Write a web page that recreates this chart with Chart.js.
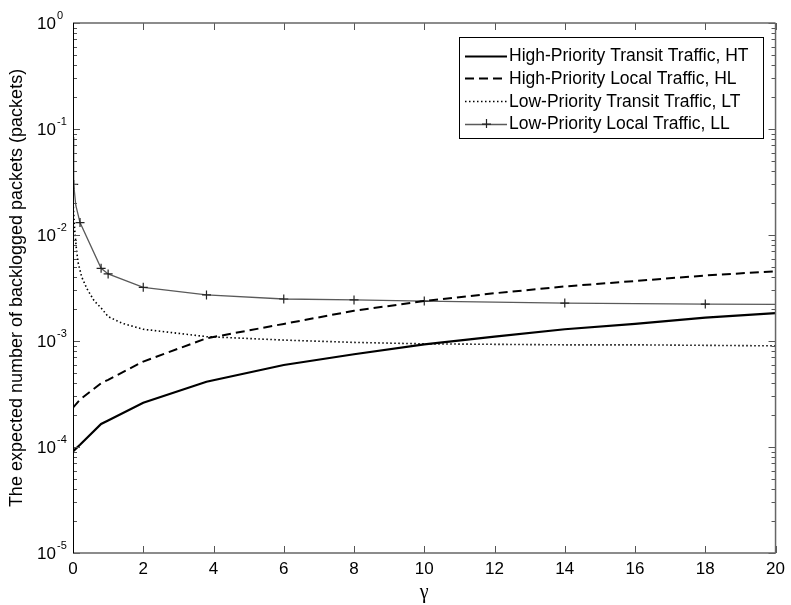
<!DOCTYPE html>
<html>
<head>
<meta charset="utf-8">
<script src="https://cdn.jsdelivr.net/npm/chart.js@4.4.0/dist/chart.umd.min.js"></script>
<style>
  html, body { margin: 0; padding: 0; background: #fff; }
  #wrap { width: 791px; height: 605px; }
</style>
</head>
<body>
<div id="wrap"><canvas id="c" width="791" height="605"></canvas></div>
<script>
// Series names (legend order)
const seriesNames = [
  'High-Priority Transit Traffic, HT',
  'High-Priority Local Traffic, HL',
  'Low-Priority Transit Traffic, LT',
  'Low-Priority Local Traffic, LL'
];

// High-priority traffic (HT, HL) against gamma
const gammaH   = [0, 0.2, 0.8, 1, 2, 3.8, 6, 8, 10, 12, 14, 16, 18, 20];
const valuesHT = [9.1e-5, 1.05e-4, 1.65e-4, 1.78e-4, 2.62e-4, 4.13e-4, 5.94e-4, 7.5e-4, 9.3e-4, 1.1e-3, 1.29e-3, 1.45e-3, 1.66e-3, 1.83e-3];
const valuesHL = [2.35e-4, 2.8e-4, 4.0e-4, 4.3e-4, 6.4e-4, 1.06e-3, 1.45e-3, 1.93e-3, 2.38e-3, 2.82e-3, 3.27e-3, 3.68e-3, 4.15e-3, 4.55e-3];

// Low-priority transit traffic (LT)
const gammaLT  = [0, 0.02, 0.05, 0.1, 0.15, 0.25, 0.4, 0.6, 0.8, 1, 1.4, 2, 3.8, 6, 8, 10, 12, 14, 16, 18, 20];
const valuesLT = [0.022, 0.016, 0.011, 0.0072, 0.0054, 0.004, 0.0031, 0.0024, 0.00205, 0.0017, 0.00147, 0.00129, 0.0011, 0.00102, 0.00097, 0.00094, 0.00093, 0.00092, 0.00092, 0.00091, 0.0009];

// Low-priority local traffic (LL) and which samples carry a marker
const gammaLL  = [0, 0.02, 0.08, 0.2, 0.8, 1, 2, 3.8, 6, 8, 10, 14, 18, 20];
const valuesLL = [0.084, 0.030, 0.019, 0.0131, 0.00485, 0.00429, 0.00321, 0.00272, 0.00249, 0.00244, 0.00238, 0.00228, 0.00223, 0.00222];
const markedLL = [false, true, false, true, true, true, true, true, true, true, true, true, true, false];

// Decade exponents labelled on the y axis
const yExponents = [0, -1, -2, -3, -4, -5];

const pts = (xs, ys) => xs.map((x, i) => ({ x: x, y: ys[i] }));
const SANS = '"Liberation Sans", Arial, Helvetica, sans-serif';

// Inward tick marks, box frame and superscripted decade labels
const axesBox = {
  id: 'axesBox',
  afterDraw(chart) {
    const { ctx, chartArea: a, scales: { x, y } } = chart;
    ctx.save();
    const seg = (x1, y1, x2, y2) => { ctx.beginPath(); ctx.moveTo(x1, y1); ctx.lineTo(x2, y2); ctx.stroke(); };
    ctx.strokeStyle = '#555';
    ctx.lineWidth = 1;
    x.ticks.forEach(t => {
      const px = Math.round(x.getPixelForValue(t.value)) + 0.5;
      seg(px, a.bottom, px, a.bottom - 7);
      seg(px, a.top, px, a.top + 7);
    });
    yExponents.forEach(e => {
      const py = Math.round(y.getPixelForValue(Math.pow(10, e))) + 0.5;
      seg(a.left, py, a.left + 7, py);
      seg(a.right, py, a.right - 7, py);
      if (e < 0) {
        for (let m = 2; m <= 9; m++) {
          const q = Math.round(y.getPixelForValue(m * Math.pow(10, e))) + 0.5;
          seg(a.left, q, a.left + 4, q);
          seg(a.right, q, a.right - 4, q);
        }
      }
    });
    // frame
    ctx.strokeStyle = '#666';
    ctx.lineWidth = 1.5;
    seg(a.left, a.top, a.right, a.top);
    seg(a.right, a.top, a.right, a.bottom);
    seg(a.left, a.bottom, a.right, a.bottom);
    ctx.strokeStyle = '#000';
    ctx.lineWidth = 1;
    seg(a.left + 0.5, a.top, a.left + 0.5, a.bottom);

    // y tick labels: 10 with superscript exponent
    ctx.fillStyle = '#000';
    ctx.textBaseline = 'middle';
    yExponents.forEach(e => {
      const py = y.getPixelForValue(Math.pow(10, e));
      ctx.font = '17px ' + SANS;
      ctx.textAlign = 'right';
      ctx.fillText('10', a.left - 17, py + 1);
      ctx.font = '11px ' + SANS;
      ctx.textAlign = 'left';
      ctx.fillText(String(e), a.left - 16, py - 7);
    });
    ctx.restore();
  }
};

// Legend box drawn inside the plot, upper right
const insideLegend = {
  id: 'insideLegend',
  afterDraw(chart) {
    const { ctx } = chart;
    const box = { l: 459, t: 37, r: 763, b: 138 };
    ctx.save();
    ctx.fillStyle = '#fff';
    ctx.fillRect(box.l, box.t, box.r - box.l, box.b - box.t);
    ctx.strokeStyle = '#000';
    ctx.lineWidth = 1;
    ctx.strokeRect(box.l + 0.5, box.t + 0.5, box.r - box.l, box.b - box.t);
    chart.data.datasets.forEach((ds, i) => {
      const cy = 55.5 + i * 22.7;
      ctx.strokeStyle = ds.borderColor;
      ctx.lineWidth = ds.borderWidth;
      ctx.setLineDash(ds.borderDash || []);
      ctx.beginPath();
      ctx.moveTo(465, Math.round(cy) + 0.5);
      ctx.lineTo(507, Math.round(cy) + 0.5);
      ctx.stroke();
      ctx.setLineDash([]);
      if (ds.pointStyle === 'cross') {
        ctx.strokeStyle = ds.pointBorderColor;
        ctx.lineWidth = ds.pointBorderWidth;
        ctx.beginPath();
        ctx.moveTo(486.5, cy - 4.5); ctx.lineTo(486.5, cy + 4.5);
        ctx.moveTo(482, cy + 0.5); ctx.lineTo(491, cy + 0.5);
        ctx.stroke();
      }
      ctx.fillStyle = '#000';
      ctx.font = '17.5px ' + SANS;
      ctx.textAlign = 'left';
      ctx.textBaseline = 'middle';
      ctx.fillText(ds.label, 509, cy + 1);
    });
    ctx.restore();
  }
};

new Chart(document.getElementById('c'), {
  type: 'line',
  data: {
    datasets: [
      {
        label: seriesNames[0], data: pts(gammaH, valuesHT),
        borderColor: '#000', borderWidth: 2.2, pointRadius: 0, tension: 0, fill: false
      },
      {
        label: seriesNames[1], data: pts(gammaH, valuesHL),
        borderColor: '#000', borderWidth: 2, borderDash: [9, 5], pointRadius: 0, tension: 0, fill: false
      },
      {
        label: seriesNames[2], data: pts(gammaLT, valuesLT),
        borderColor: '#000', borderWidth: 1.6, borderDash: [1.5, 2.5], pointRadius: 0, tension: 0, fill: false
      },
      {
        label: seriesNames[3], data: pts(gammaLL, valuesLL),
        borderColor: '#5a5a5a', borderWidth: 1.3, tension: 0, fill: false,
        pointStyle: 'cross', pointBorderColor: '#222', pointBorderWidth: 1.2,
        pointRadius: ctx => markedLL[ctx.dataIndex] ? 4.5 : 0
      }
    ]
  },
  options: {
    responsive: false,
    animation: false,
    devicePixelRatio: 1,
    events: [],
    layout: { padding: { top: 23, right: 14, left: 0, bottom: 0 } },
    plugins: { legend: { display: false }, tooltip: { enabled: false } },
    scales: {
      x: {
        type: 'linear', min: 0, max: 20,
        grid: { display: false, drawTicks: false },
        border: { display: false },
        ticks: { stepSize: 2, padding: 6, maxRotation: 0, color: '#000', font: { family: SANS, size: 17 } },
        title: { display: true, text: 'γ', color: '#000', font: { family: '"Liberation Serif", serif', size: 20 }, padding: { top: 0, bottom: 0 } },
        afterFit: s => { s.height = 52; }
      },
      y: {
        type: 'logarithmic', min: 1e-5, max: 1,
        grid: { display: false, drawTicks: false },
        border: { display: false },
        ticks: { display: false },
        title: { display: true, text: 'The expected number of backlogged packets (packets)', color: '#000', font: { family: SANS, size: 18 }, padding: { top: 6 } },
        afterFit: s => { s.width = 73; }
      }
    }
  },
  plugins: [axesBox, insideLegend]
});
</script>
</body>
</html>
